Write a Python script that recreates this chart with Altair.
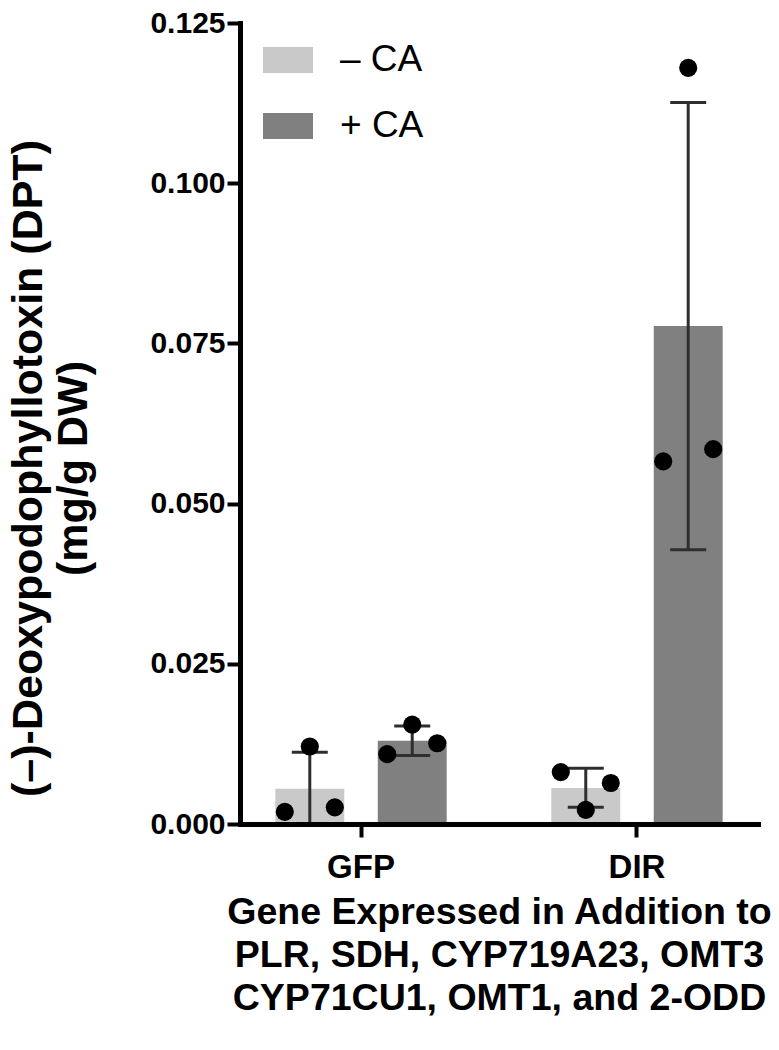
import altair as alt
import pandas as pd

FONT = "Liberation Sans"

groups = ["GFP", "DIR"]
treatments = ["– CA", "+ CA"]

# bar means and error-bar limits (mean ± SD)
bar_group = ["GFP", "GFP", "DIR", "DIR"]
bar_treat = ["– CA", "+ CA", "– CA", "+ CA"]
bar_mean = [0.0055, 0.0130, 0.0056, 0.0777]
err_low = [0.0000, 0.0107, 0.0026, 0.0428]
err_high = [0.0112, 0.0153, 0.0087, 0.1126]

# individual replicates (left, middle, right within each bar)
pt_group = ["GFP"] * 6 + ["DIR"] * 6
pt_treat = ["– CA"] * 3 + ["+ CA"] * 3 + ["– CA"] * 3 + ["+ CA"] * 3
pt_value = [0.0019, 0.0121, 0.0026,
            0.0109, 0.0155, 0.0126,
            0.0081, 0.0022, 0.0064,
            0.0566, 0.1180, 0.0585]
pt_slot = [-1, 0, 1] * 4

y_ticks = [0.0, 0.025, 0.05, 0.075, 0.1, 0.125]

bars_df = pd.DataFrame({"group": bar_group, "treat": bar_treat, "mean": bar_mean,
                        "low": err_low, "high": err_high})
pts_df = pd.DataFrame({"group": pt_group, "treat": pt_treat, "value": pt_value,
                       "slot": pt_slot})

x_axis = alt.Axis(
    title=["Gene Expressed in Addition to", "PLR, SDH, CYP719A23, OMT3",
           "CYP71CU1, OMT1, and 2-ODD"],
    labelAngle=0, domainColor="black", domainWidth=5, domainCap="square",
    tickColor="black", tickWidth=4, tickSize=13,
    labelFont=FONT, labelFontSize=33, labelFontWeight="bold", labelColor="black",
    labelPadding=14,
    titleFont=FONT, titleFontSize=37.5, titleFontWeight="bold", titleColor="black",
    titleLineHeight=43, titleY=88, titleBaseline="middle", zindex=1,
)
y_axis = alt.Axis(
    title=["(–)-Deoxypodophyllotoxin (DPT)", "(mg/g DW)"],
    values=y_ticks, format=".3f", grid=False,
    domainColor="black", domainWidth=5, domainCap="square",
    tickColor="black", tickWidth=4, tickSize=13,
    labelFont=FONT, labelFontSize=30, labelFontWeight="bold", labelColor="black",
    labelPadding=2,
    titleFont=FONT, titleFontSize=43, titleFontWeight="bold", titleColor="black",
    titleLineHeight=45, titleX=-212, titleY=445, titleBaseline="middle",
    titleAngle=270, zindex=1,
)

x_scale = alt.Scale(paddingInner=0.379, paddingOuter=0.128)
y_scale = alt.Scale(domain=[0, 0.125], nice=False, zero=True)


def X():
    return alt.X("group:N", sort=groups, scale=x_scale, axis=x_axis)


def XOffBar():
    return alt.XOffset("treat:N", sort=treatments,
                       scale=alt.Scale(domain=treatments, paddingInner=0.327, paddingOuter=0))


bars = alt.Chart(bars_df).mark_bar().encode(
    x=X(),
    xOffset=XOffBar(),
    y=alt.Y("mean:Q", scale=y_scale, axis=y_axis),
    color=alt.Color(
        "treat:N", sort=treatments,
        scale=alt.Scale(domain=treatments, range=["#c9c9c9", "#808080"]),
        legend=alt.Legend(
            title="", orient="none", legendX=23, legendY=12,
            symbolType="M-1,-0.52H1V0.52H-1Z", symbolSize=2500, symbolStrokeWidth=0,
            symbolOpacity=1, labelFont=FONT, labelFontSize=37, labelFontWeight="normal",
            labelColor="black", labelOffset=27, rowPadding=23, padding=0,
        ),
    ),
)

ERR_COLOR = "#2e2e2e"

stems = alt.Chart(bars_df).mark_rule(color=ERR_COLOR, strokeWidth=3).encode(
    x=X(), xOffset=XOffBar(),
    y=alt.Y("low:Q", scale=y_scale, axis=y_axis), y2="high:Q",
)
cap_hi = alt.Chart(bars_df).mark_tick(color=ERR_COLOR, thickness=3, size=36, opacity=1).encode(
    x=X(), xOffset=XOffBar(),
    y=alt.Y("high:Q", scale=y_scale, axis=y_axis),
)
cap_lo = alt.Chart(bars_df).mark_tick(color=ERR_COLOR, thickness=3, size=36, opacity=1).encode(
    x=X(), xOffset=XOffBar(),
    y=alt.Y("low:Q", scale=y_scale, axis=y_axis),
)

# within a group band: bar centres at pos 0 and 1, replicates spread around them
points = alt.Chart(pts_df).transform_calculate(
    pos="(datum.treat == '+ CA' ? 1 : 0) + datum.slot * 0.244"
).mark_circle(size=330, color="black", opacity=1).encode(
    x=X(),
    xOffset=alt.XOffset("pos:Q", scale=alt.Scale(domain=[-0.3366, 1.3366], nice=False, zero=False)),
    y=alt.Y("value:Q", scale=y_scale, axis=y_axis),
)

chart = alt.layer(bars, stems, cap_lo, cap_hi, points).resolve_scale(
    xOffset="independent"
).properties(
    width=518, height=801,
    autosize=alt.AutoSizeParams(type="none"),
    padding={"left": 232, "top": 15, "right": 13, "bottom": 220},
    background="white",
).configure_view(strokeWidth=0)

chart.save("out.html", embed_options={"renderer": "svg", "actions": False})
